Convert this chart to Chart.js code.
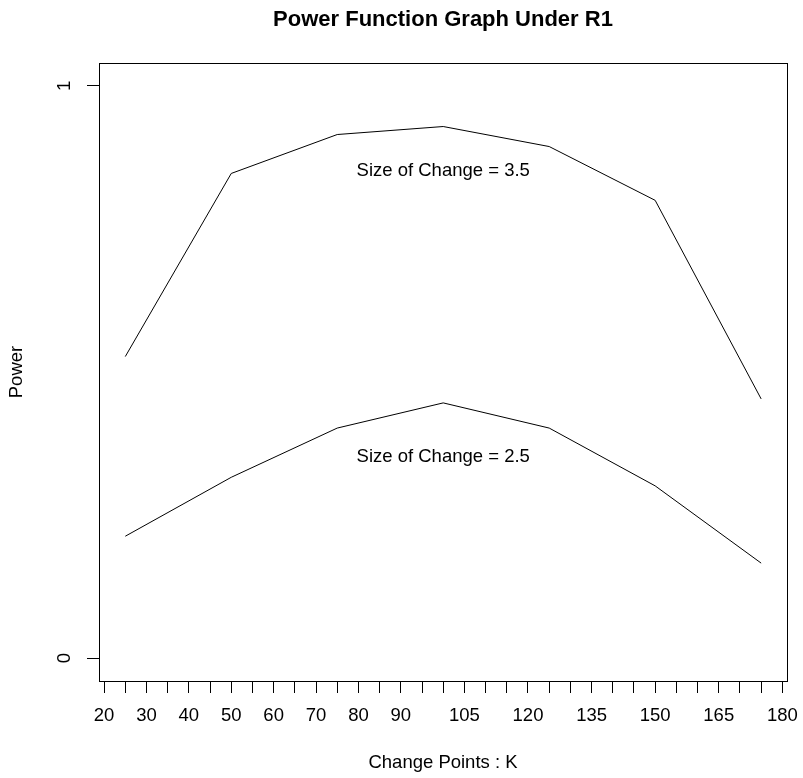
<!DOCTYPE html>
<html>
<head>
<meta charset="utf-8">
<title>Power Function Graph Under R1</title>
<script src="https://cdn.jsdelivr.net/npm/chart.js@4"></script>
<style>
  html, body { margin: 0; padding: 0; background: #fff; }
  canvas { display: block; }
</style>
</head>
<body>
<canvas id="powerChart" width="803" height="778"></canvas>
<script>
// change point locations and estimated power for each size of change
const changePoints = [25, 50, 75, 100, 125, 150, 175];
const power35 = [0.527, 0.847, 0.915, 0.929, 0.894, 0.800, 0.453];
const power25 = [0.213, 0.316, 0.402, 0.446, 0.402, 0.301, 0.166];

// axis ticks: marks every 5, labels only where they fit
const xTickMarks = [];
for (let v = 20; v <= 180; v += 5) xTickMarks.push(v);
const xTickLabels = [20, 30, 40, 50, 60, 70, 80, 90, 105, 120, 135, 150, 165, 180];
const yTicks = [0, 1];

// in-plot labels for each curve
const noteText = ["Size of Change = 3.5", "Size of Change = 2.5"];
const noteX = [100, 100];
const noteY = [0.851, 0.352];

const mainTitle = "Power Function Graph Under R1";
const FONT = "'Liberation Sans', Arial, Helvetica, sans-serif";
const BASE = 18.5;

// main title, box around the plot region, rotated y labels and curve captions
const extras = {
    id: "extras",
    afterDraw(chart) {
        const { ctx, chartArea, scales } = chart;
        const midX = (chartArea.left + chartArea.right) / 2;
        ctx.save();
        ctx.strokeStyle = "#000";
        ctx.lineWidth = 1;
        ctx.strokeRect(Math.round(chartArea.left) + 0.5, Math.round(chartArea.top) + 0.5,
            Math.round(chartArea.right - chartArea.left), Math.round(chartArea.bottom - chartArea.top));

        ctx.fillStyle = "#000";
        ctx.textAlign = "center";
        ctx.textBaseline = "alphabetic";
        ctx.font = "bold 22px " + FONT;
        ctx.fillText(mainTitle, midX, 25.5);

        ctx.font = BASE + "px " + FONT;
        ctx.textBaseline = "middle";
        yTicks.forEach(v => {
            const py = scales.y.getPixelForValue(v);
            ctx.save();
            ctx.translate(65, py);
            ctx.rotate(-Math.PI / 2);
            ctx.fillText(String(v), 0, 0);
            ctx.restore();
        });

        noteText.forEach((t, i) => {
            ctx.fillText(t, scales.x.getPixelForValue(noteX[i]), scales.y.getPixelForValue(noteY[i]));
        });
        ctx.restore();
    }
};

const lineStyle = {
    borderColor: "#000",
    borderWidth: 1,
    pointRadius: 0,
    tension: 0,
    fill: false
};

new Chart(document.getElementById("powerChart"), {
    type: "line",
    data: {
        datasets: [
            { label: "3.5", data: changePoints.map((x, i) => ({ x: x, y: power35[i] })), ...lineStyle },
            { label: "2.5", data: changePoints.map((x, i) => ({ x: x, y: power25[i] })), ...lineStyle }
        ]
    },
    options: {
        responsive: false,
        animation: false,
        layout: { padding: { left: 0, right: 16, top: 63, bottom: 0 } },
        plugins: {
            legend: { display: false },
            tooltip: { enabled: false },
            title: { display: false }
        },
        scales: {
            x: {
                type: "linear",
                min: 18.8,
                max: 181.1,
                afterBuildTicks: scale => { scale.ticks = xTickMarks.map(v => ({ value: v })); },
                afterFit: scale => {
                    scale.height = 97;
                    scale.paddingLeft = 0;
                    scale.paddingRight = 0;
                },
                border: { display: false },
                grid: { drawOnChartArea: false, drawTicks: true, tickLength: 12, color: "#000", lineWidth: 1 },
                ticks: {
                    autoSkip: false,
                    maxRotation: 0,
                    minRotation: 0,
                    padding: 12,
                    color: "#000",
                    font: { family: FONT, size: BASE },
                    callback: v => xTickLabels.includes(v) ? String(v) : ""
                },
                title: {
                    display: true,
                    text: "Change Points : K",
                    color: "#000",
                    font: { family: FONT, size: BASE, lineHeight: 1.2 },
                    padding: { top: 0, bottom: 4 }
                }
            },
            y: {
                type: "linear",
                min: -0.04,
                max: 1.04,
                afterBuildTicks: scale => { scale.ticks = yTicks.map(v => ({ value: v })); },
                afterFit: scale => {
                    scale.width = 99;
                    scale.paddingTop = 0;
                    scale.paddingBottom = 0;
                },
                border: { display: false },
                grid: { drawOnChartArea: false, drawTicks: true, tickLength: 12, color: "#000", lineWidth: 1 },
                ticks: { display: false },
                title: {
                    display: true,
                    text: "Power",
                    color: "#000",
                    font: { family: FONT, size: BASE, lineHeight: 1.2 },
                    padding: { top: 6, bottom: 0 }
                }
            }
        }
    },
    plugins: [extras]
});
</script>
</body>
</html>
